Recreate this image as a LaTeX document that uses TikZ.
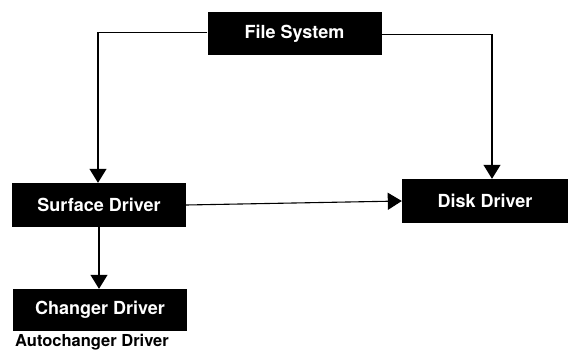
\documentclass[tikz,border=0pt]{standalone}
\usepackage{fontspec}
\setmainfont{TeX Gyre Heros}
\usetikzlibrary{arrows.meta}
\begin{document}
\begin{tikzpicture}[x=1pt,y=-1pt,
  blockbox/.style={fill=black,text=white,minimum width=174pt,minimum height=44pt,
    inner sep=0pt,font=\fontsize{18}{20}\selectfont\bfseries},
  link/.style={line width=1.1pt,-{Triangle[width=17pt,length=14pt]}}]
\useasboundingbox (0,0) rectangle (570,350);
\node[blockbox,minimum height=43pt] (fs) at (294.5,33.5) {File System};
\node[blockbox] (sd) at (99,205) {Surface Driver};
\node[blockbox,minimum width=166pt] (dd) at (485,201) {Disk Driver};
\node[blockbox,minimum height=42pt] (cd) at (100,310) {Changer Driver};
\node[anchor=base west,inner sep=0pt,font=\fontsize{16.5}{19}\selectfont\bfseries] (ac) at (15,346.3) {Autochanger Driver};
\coordinate (fsl) at ([yshift=1pt]fs.west);
\coordinate (fsr) at ([yshift=-1pt]fs.east);
\coordinate (ddn) at ([xshift=7pt]dd.north);
\draw[link] (fsl) -| ([xshift=-1pt]sd.north);
\draw[link] (fsr) -| (ddn);
\draw[link] (sd.east) -- (dd.west);
\draw[link] (sd.south) -- (cd.north -| sd.south);
\end{tikzpicture}
\end{document}
